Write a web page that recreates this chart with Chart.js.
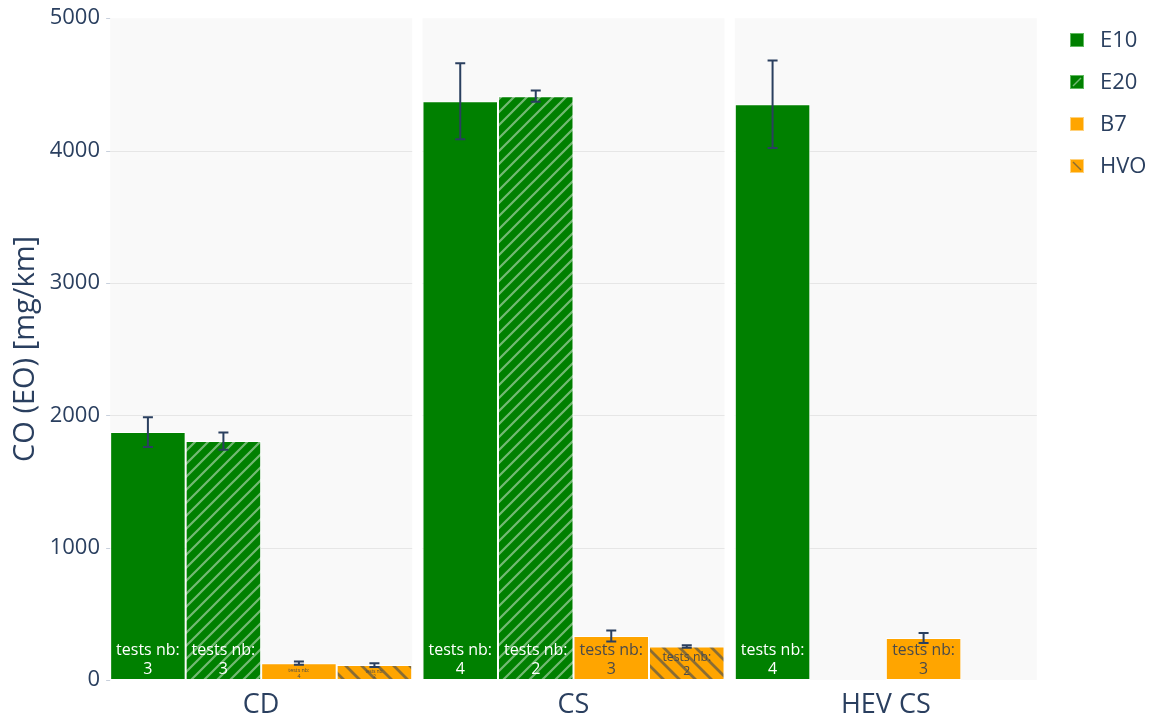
<!DOCTYPE html>
<html>
<head>
<meta charset="utf-8">
<script src="https://cdn.jsdelivr.net/npm/chart.js@4.4.1/dist/chart.umd.min.js"></script>
<style>
  html, body { margin: 0; padding: 0; background: #ffffff; }
  #wrap { width: 1162px; height: 719px; position: relative; }
</style>
</head>
<body>
<div id="wrap"><canvas id="chart" width="1162" height="719"></canvas></div>
<script>
// Test conditions (facets along the x axis)
const categories = ['CD', 'CS', 'HEV CS'];

// Fuel series: mean CO (EO) in mg/km, error half-width, number of tests
const seriesNames = ['E10', 'E20', 'B7', 'HVO'];

const e10Values = [1873, 4373, 4350];
const e10Errors = [113, 287, 330];
const e10Tests  = [3, 4, 4];

const e20Values = [1805, 4411, null];
const e20Errors = [65, 42, null];
const e20Tests  = [3, 2, null];

const b7Values = [127, 332, 317];
const b7Errors = [12, 42, 38];
const b7Tests  = [4, 3, 3];

const hvoValues = [113, 253, null];
const hvoErrors = [14, 10, null];
const hvoTests  = [2, 2, null];

const yTicks = [0, 1000, 2000, 3000, 4000, 5000];

const FONT = '"Open Sans", "Noto Sans", sans-serif';
const INK = '#2a3f5f';
const GREEN = '#008000';
const ORANGE = '#ffa500';

function makeStripes(bg, fg, size, width, forward) {
  const c = document.createElement('canvas');
  c.width = size; c.height = size;
  const g = c.getContext('2d');
  g.fillStyle = bg;
  g.fillRect(0, 0, size, size);
  g.strokeStyle = fg;
  g.lineWidth = width;
  g.lineCap = 'square';
  g.beginPath();
  if (forward) {
    // "/" stripes
    g.moveTo(-size, size * 2); g.lineTo(size * 2, -size);
    g.moveTo(-size, size); g.lineTo(size, -size);
    g.moveTo(0, size * 2); g.lineTo(size * 2, 0);
  } else {
    // "\" stripes
    g.moveTo(-size, -size); g.lineTo(size * 2, size * 2);
    g.moveTo(-size, 0); g.lineTo(size, size * 2);
    g.moveTo(0, -size); g.lineTo(size * 2, size);
  }
  g.stroke();
  return g.createPattern(c, 'repeat');
}

const e20Fill = makeStripes(GREEN, 'rgba(255,255,255,0.45)', 13, 2.2, true);
const hvoFill = makeStripes(ORANGE, 'rgba(42,63,95,0.55)', 16, 2.8, false);

const errorsBySeries = [e10Errors, e20Errors, b7Errors, hvoErrors];
const testsBySeries = [e10Tests, e20Tests, b7Tests, hvoTests];
const textColors = ['#ffffff', '#ffffff', '#4a4a4a', '#4a4a4a'];

const facetPlugin = {
  id: 'facets',
  beforeDatasetsDraw(chart) {
    const { ctx, chartArea, scales } = chart;
    const y = scales.y;
    ctx.save();
    const first = chart.getDatasetMeta(0).data;
    const last = chart.getDatasetMeta(3).data;
    for (let i = 0; i < categories.length; i++) {
      const a = first[i], b = last[i];
      const x0 = a.x - a.width / 2;
      const x1 = b.x + b.width / 2;
      ctx.fillStyle = '#f9f9f9';
      ctx.fillRect(x0, chartArea.top, x1 - x0, chartArea.bottom - chartArea.top);
      ctx.strokeStyle = '#e6e6e6';
      ctx.lineWidth = 1;
      for (const t of yTicks) {
        if (t === 0 || t === 5000) continue;
        const py = Math.round(y.getPixelForValue(t)) + 0.5;
        ctx.beginPath();
        ctx.moveTo(x0, py); ctx.lineTo(x1, py);
        ctx.stroke();
      }
    }
    // short outside ticks on the y axis
    const fx = first[0].x - first[0].width / 2;
    ctx.strokeStyle = '#c8d0dc';
    for (const t of yTicks) {
      const py = Math.round(y.getPixelForValue(t)) + 0.5;
      ctx.beginPath();
      ctx.moveTo(fx - 4, py); ctx.lineTo(fx, py);
      ctx.stroke();
    }
    ctx.restore();
  },
  afterDatasetsDraw(chart) {
    const { ctx, scales } = chart;
    const y = scales.y;
    ctx.save();
    // "tests nb" labels inside each bar, anchored at its base
    for (let d = 0; d < 4; d++) {
      const meta = chart.getDatasetMeta(d);
      const vals = chart.data.datasets[d].data;
      meta.data.forEach((bar, i) => {
        if (vals[i] == null) return;
        const h = bar.base - bar.y;
        const size = Math.min(16, (h - 4) / 2.4);
        if (size < 2) return;
        ctx.font = size + 'px ' + FONT;
        ctx.fillStyle = textColors[d];
        ctx.textAlign = 'center';
        ctx.textBaseline = 'alphabetic';
        const lh = size * 1.15;
        const baseY = bar.base - size * 0.4;
        ctx.fillText(String(testsBySeries[d][i]), bar.x, baseY);
        ctx.fillText('tests nb:', bar.x, baseY - lh);
      });
    }
    // error bars
    ctx.strokeStyle = INK;
    ctx.lineWidth = 2;
    for (let d = 0; d < 4; d++) {
      const meta = chart.getDatasetMeta(d);
      const vals = chart.data.datasets[d].data;
      meta.data.forEach((bar, i) => {
        if (vals[i] == null) return;
        const e = errorsBySeries[d][i];
        const yt = y.getPixelForValue(vals[i] + e);
        const yb = y.getPixelForValue(vals[i] - e);
        ctx.beginPath();
        ctx.moveTo(bar.x, yt); ctx.lineTo(bar.x, yb);
        ctx.moveTo(bar.x - 5, yt); ctx.lineTo(bar.x + 5, yt);
        ctx.moveTo(bar.x - 5, yb); ctx.lineTo(bar.x + 5, yb);
        ctx.stroke();
      });
    }
    ctx.restore();
  },
  afterDraw(chart) {
    const { ctx } = chart;
    ctx.save();
    // y axis title
    ctx.fillStyle = INK;
    ctx.font = '29px ' + FONT;
    ctx.textAlign = 'center';
    ctx.textBaseline = 'middle';
    ctx.translate(26, 349);
    ctx.rotate(-Math.PI / 2);
    ctx.fillText('CO (EO) [mg/km]', 0, 0);
    ctx.restore();

    // legend
    ctx.save();
    const fills = [GREEN, GREEN, ORANGE, ORANGE];
    const ys = [40, 82, 124, 166];
    for (let k = 0; k < 4; k++) {
      const x = 1070, yy = ys[k] - 7;
      ctx.fillStyle = fills[k];
      ctx.fillRect(x, yy, 14, 14);
      ctx.strokeStyle = k < 2 ? 'rgba(120,200,120,0.8)' : 'rgba(255,215,140,0.9)';
      ctx.lineWidth = 1;
      ctx.strokeRect(x + 0.5, yy + 0.5, 13, 13);
      if (k === 1) {
        ctx.strokeStyle = 'rgba(255,255,255,0.45)';
        ctx.lineWidth = 1.5;
        ctx.beginPath(); ctx.moveTo(x + 3, yy + 11); ctx.lineTo(x + 11, yy + 3); ctx.stroke();
      }
      if (k === 3) {
        ctx.strokeStyle = 'rgba(42,63,95,0.55)';
        ctx.lineWidth = 1.5;
        ctx.beginPath(); ctx.moveTo(x + 3, yy + 3); ctx.lineTo(x + 11, yy + 11); ctx.stroke();
      }
      ctx.fillStyle = INK;
      ctx.font = '22px ' + FONT;
      ctx.textAlign = 'left';
      ctx.textBaseline = 'middle';
      ctx.fillText(seriesNames[k], 1100, ys[k] + 1);
    }
    ctx.restore();
  }
};

const datasetCommon = {
  borderColor: '#ffffff',
  borderWidth: 1,
  borderSkipped: false,
  categoryPercentage: 0.967,
  barPercentage: 1.0
};

new Chart(document.getElementById('chart'), {
  type: 'bar',
  data: {
    labels: categories,
    datasets: [
      { label: seriesNames[0], data: e10Values, backgroundColor: GREEN, ...datasetCommon },
      { label: seriesNames[1], data: e20Values, backgroundColor: e20Fill, ...datasetCommon },
      { label: seriesNames[2], data: b7Values, backgroundColor: ORANGE, ...datasetCommon },
      { label: seriesNames[3], data: hvoValues, backgroundColor: hvoFill, ...datasetCommon }
    ]
  },
  options: {
    responsive: false,
    animation: false,
    layout: { padding: { top: 18, right: 120, left: 0, bottom: 0 } },
    plugins: {
      legend: { display: false },
      tooltip: { enabled: false }
    },
    scales: {
      x: {
        grid: { display: false, drawTicks: false },
        border: { display: false },
        ticks: { color: INK, font: { family: FONT, size: 27 }, padding: 9 },
        afterFit(scale) { scale.height = 39; }
      },
      y: {
        min: 0, max: 5000,
        grid: { display: false, drawTicks: false },
        border: { display: false },
        afterBuildTicks(scale) { scale.ticks = yTicks.map(v => ({ value: v })); },
        ticks: {
          color: INK,
          font: { family: FONT, size: 22 },
          padding: 5,
          callback: (v) => String(v)
        },
        afterFit(scale) { scale.width = 105; }
      }
    }
  },
  plugins: [facetPlugin]
});
</script>
</body>
</html>
